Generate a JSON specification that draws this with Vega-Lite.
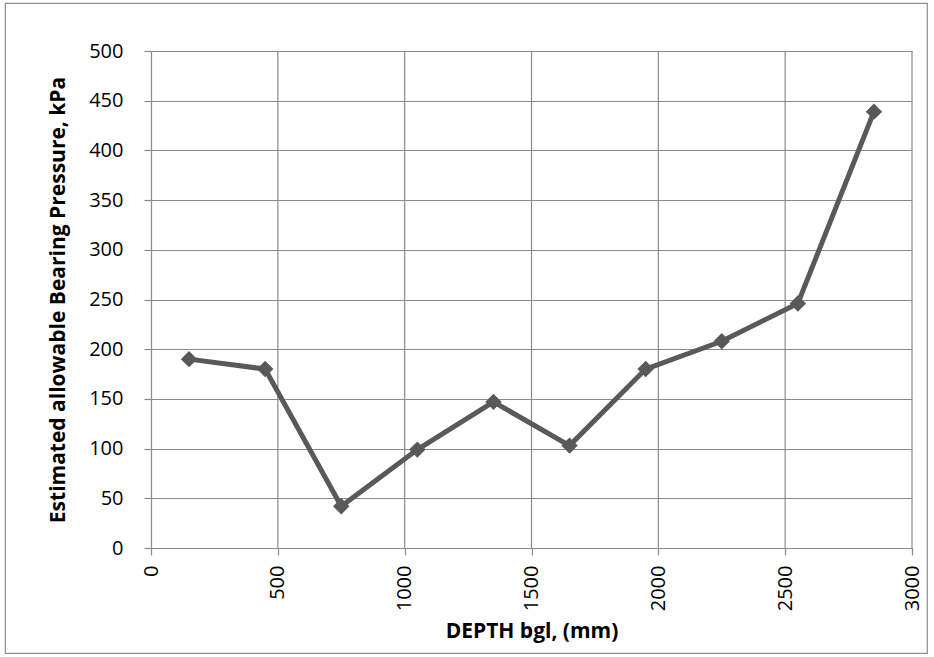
{
  "$schema": "https://vega.github.io/schema/vega-lite/v6.json",
  "width": 922,
  "height": 650,
  "autosize": {"type": "none"},
  "padding": {"left": 5, "top": 3, "right": 7, "bottom": 4},
  "background": "white",
  "layer": [
    {
      "description": "Vertical gridlines at the depth ticks",
      "data": {"values": [{"tick": 500}, {"tick": 1000}, {"tick": 1500}, {"tick": 2000}, {"tick": 2500}, {"tick": 3000}]},
      "mark": {"type": "rule", "color": "#8a8a8a", "strokeWidth": 1.2},
      "encoding": {
        "x": {"field": "tick", "type": "quantitative", "scale": {"domain": [0, 3000], "nice": false, "zero": true, "range": [146, 907]},
          "axis": {
            "title": "DEPTH bgl, (mm)",
            "values": [0, 500, 1000, 1500, 2000, 2500, 3000],
            "format": "d",
            "offset": -105,
            "grid": false,
            "labelAngle": 270,
            "labelAlign": "right",
            "labelBaseline": "middle",
            "labelPadding": 10,
            "titlePadding": 10
          }
        },
        "y": {"datum": 0, "type": "quantitative"},
        "y2": {"datum": 500}
      }
    },
    {
      "data": {"name": "bearing"},
      "mark": {"type": "line", "color": "#595959", "strokeWidth": 5},
      "encoding": {
        "x": {"field": "depth", "type": "quantitative"},
        "y": {"field": "pressure", "type": "quantitative"}
      }
    },
    {
      "data": {"name": "bearing"},
      "mark": {"type": "point", "shape": "diamond", "filled": true, "color": "#595959", "opacity": 1, "size": 270},
      "encoding": {
        "x": {"field": "depth", "type": "quantitative"},
        "y": {"field": "pressure", "type": "quantitative"}
      }
    }
  ],
  "datasets": {
    "bearing": [
      {"depth": 150, "pressure": 190},
      {"depth": 450, "pressure": 180},
      {"depth": 750, "pressure": 42},
      {"depth": 1050, "pressure": 99},
      {"depth": 1350, "pressure": 147},
      {"depth": 1650, "pressure": 103},
      {"depth": 1950, "pressure": 180},
      {"depth": 2250, "pressure": 208},
      {"depth": 2550, "pressure": 246},
      {"depth": 2850, "pressure": 439}
    ]
  },
  "resolve": {"scale": {"x": "shared", "y": "shared"}},
  "encoding": {
    "y": {
      "type": "quantitative",
      "scale": {"domain": [0, 500], "nice": false, "range": [545, 48]},
      "axis": {
        "title": "Estimated allowable Bearing Pressure, kPa",
        "values": [0, 50, 100, 150, 200, 250, 300, 350, 400, 450, 500],
        "format": "d",
        "offset": -146,
        "grid": true,
        "labelPadding": 21,
        "titlePadding": 20
      }
    }
  },
  "config": {
    "font": "Open Sans",
    "view": {"stroke": "#8f8f8f", "strokeWidth": 1.2},
    "axis": {
      "gridColor": "#8a8a8a",
      "gridWidth": 1.2,
      "gridOpacity": 1,
      "domainColor": "#8a8a8a",
      "domainWidth": 1.2,
      "tickColor": "#8a8a8a",
      "tickWidth": 1.2,
      "tickSize": 7,
      "labelFont": "Open Sans",
      "labelFontSize": 20,
      "labelColor": "#000000",
      "labelFlush": false,
      "labelOverlap": false,
      "titleFont": "Open Sans",
      "titleFontWeight": "bold",
      "titleFontSize": 21,
      "titleColor": "#000000"
    }
  }
}
